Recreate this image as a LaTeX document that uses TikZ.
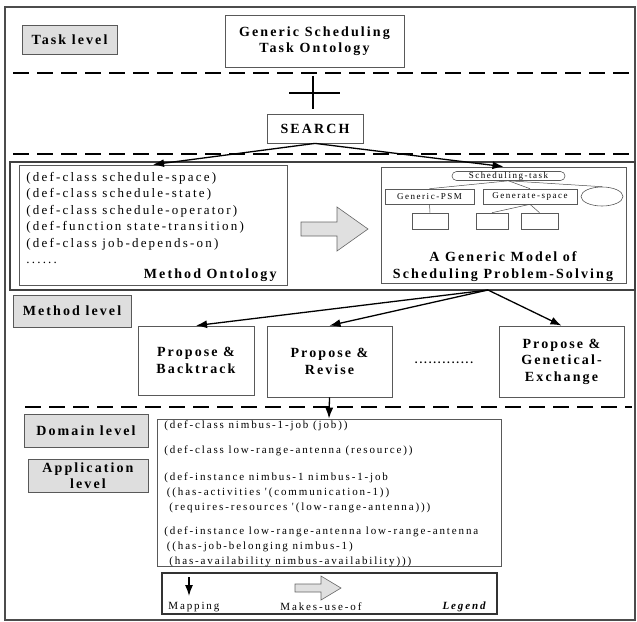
\documentclass[tikz,border=0pt]{standalone}
\usepackage{fontspec}
\setmainfont{Liberation Serif}
\newfontfamily\lblfont[LetterSpace=15]{Liberation Serif}
\newfontfamily\codefont[LetterSpace=17]{Liberation Serif}
\usepackage{tikz}
\usetikzlibrary{arrows.meta, shapes.geometric}

\begin{document}
\begin{tikzpicture}[x=1pt, y=-1pt, >={Latex[length=11pt, width=8pt]}, line width=0.8pt,
    main/.style = {draw=black!65, fill=white, inner sep=0pt, align=center, font=\lblfont\bfseries\fontsize{14}{16.5}\selectfont},
    lvl/.style = {main, fill=black!13},
    small/.style = {draw=black!65, inner sep=0pt, line width=0.6pt, font=\codefont\fontsize{9}{10}\selectfont},
    code/.style = {inner sep=0pt, anchor=west, align=left, font=\codefont\fontsize{11}{15}\selectfont},
    sep/.style = {line width=1.6pt, dash pattern=on 16pt off 8pt},
    arr/.style = {->, line width=1.3pt},
    block/.style = {draw=black!60, fill=black!12, line width=0.6pt}]
                \useasboundingbox (0,0) rectangle (637,621);
                \draw[line width=1.2pt, black!70] (5,7) rectangle (635,620);
                % task level
                \node[lvl, minimum width=95, minimum height=29] (task) at (69.5,39.5) {Task level};
                \node[main, minimum width=179, minimum height=52] (gsto) at (314.5,41) {Generic Scheduling\\Task Ontology};
                \draw[sep] (13,73) -- (632,73);
                \draw[line width=1.4pt] (313,76) -- (313,109) (289,93) -- (340,93);
                \node[main, minimum width=96, minimum height=29] (search) at (315,128.5) {SEARCH};
                \draw[sep] (13,154) -- (632,154);
                % method level
                \draw[line width=1.2pt, black!75] (10,162) rectangle (635,290);
                \node[draw=black!65, minimum width=268, minimum height=120] (mont) at (153,225) {};
                \node[code, font=\codefont\fontsize{13}{16.4}\selectfont] (mcode) at (26,218) {(def-class schedule-space)\\(def-class schedule-state)\\(def-class schedule-operator)\\(def-function state-transition)\\(def-class job-depends-on)\\......};
                \node[main, draw=none, fill=none, anchor=east] (mname) at (277,275) {Method Ontology};
                \node[draw=black!65, minimum width=245, minimum height=116] (gmodel) at (503.5,225) {};
                \draw[arr] (search.south) -- (mont.north);
                \draw[arr] (search.south) -- (gmodel.north);
                \draw[block] (301,222) -- (337,222) -- (337,207) -- (368,229) -- (337,251) -- (337,236) -- (301,236) -- cycle;
                \node[small, rounded corners=4.5pt, minimum width=113, minimum height=9] (stask) at (508.5,176) {Scheduling-task};
                \node[small, minimum width=89, minimum height=15] (psm) at (429.5,196.5) {Generic-PSM};
                \node[small, minimum width=94, minimum height=15] (gspace) at (530,196.5) {Generate-space};
                \node[small, ellipse, minimum width=42, minimum height=19] (oval) at (602,196.5) {};
                \node[small, minimum width=36, minimum height=16] (b1) at (430,221) {};
                \node[small, minimum width=32, minimum height=16] (b2) at (492,221) {};
                \node[small, minimum width=37, minimum height=16] (b3) at (539.5,221) {};
                \draw[line width=0.5pt, black!70] (stask.south) -- (psm.north);
                \draw[line width=0.5pt, black!70] (stask.south) -- (gspace.north);
                \draw[line width=0.5pt, black!70] (stask.south) -- (oval.north);
                \draw[line width=0.5pt, black!70] (psm.south) -- (b1.north);
                \draw[line width=0.5pt, black!70] (gspace.south) -- (b2.north);
                \draw[line width=0.5pt, black!70] (gspace.south) -- (b3.north);
                \node[main, draw=none, fill=none, font=\lblfont\bfseries\fontsize{14}{17}\selectfont] (gtitle) at (503,266.5) {A Generic Model of\\Scheduling Problem-Solving};
                \node[lvl, minimum width=118, minimum height=32] (mlvl) at (72,311) {Method level};
                \node[main, minimum width=116, minimum height=69] (pb) at (196,360.5) {Propose \&\\Backtrack};
                \node[main, minimum width=125, minimum height=71] (pr) at (329.5,361.5) {Propose \&\\Revise};
                \node[main, draw=none, fill=none, anchor=base, font=\codefont\bfseries\fontsize{11}{12}\selectfont] (dots) at (444,363) {.............};
                \node[main, minimum width=125, minimum height=71] (pge) at (561.5,361.5) {Propose \&\\Genetical-\\Exchange};
                \coordinate (fork) at (488,290);
                \draw[arr] (fork) -- (pb.north);
                \draw[arr] (fork) -- (pr.north);
                \draw[arr] (fork) -- (pge.north);
                \draw[sep] (25,407) -- (632,407);
                % domain and application level
                \node[lvl, minimum width=124, minimum height=33] (dlvl) at (86,430.5) {Domain level};
                \node[lvl, minimum width=120, minimum height=33] (alvl) at (88,475.5) {Application\\level};
                \node[draw=black!65, minimum width=344, minimum height=147] (dcode) at (329,492.5) {};
                \draw[arr] (pr.south) -- (dcode.north);
                \node[code] (c1) at (164,426) {(def-class nimbus-1-job (job))};
                \node[code] (c2) at (164,451) {(def-class low-range-antenna (resource))};
                \node[code] (c3) at (164,492.5) {(def-instance nimbus-1 nimbus-1-job\\\hspace{2.5pt}((has-activities '(communication-1))\\\hspace{5pt}(requires-resources '(low-range-antenna)))};
                \node[code] (c4) at (164,547) {(def-instance low-range-antenna low-range-antenna\\\hspace{2.5pt}((has-job-belonging nimbus-1)\\\hspace{5pt}(has-availability nimbus-availability)))};
                % legend
                \node[draw=black!80, line width=1.2pt, minimum width=335, minimum height=41] (legend) at (329.5,593.5) {};
                \coordinate (m1) at (189,577);
                \coordinate (m2) at (189,596);
                \draw[arr] (m1) -- (m2);
                \draw[block] (295,584) -- (321,584) -- (321,576) -- (341,588) -- (321,600) -- (321,592) -- (295,592) -- cycle;
                \node[code] (lmap) at (168,607) {Mapping};
                \node[code] (luse) at (280,607) {Makes-use-of};
                \node[code, anchor=east, font=\codefont\bfseries\itshape\fontsize{11}{15}\selectfont] (lleg) at (486,607) {Legend};
            \end{tikzpicture}
\end{document}
